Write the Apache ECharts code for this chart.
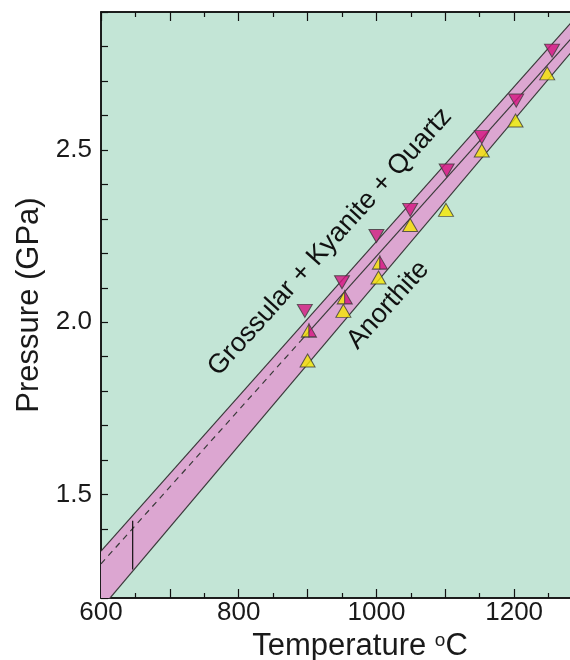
<!DOCTYPE html>
<html>
<head>
<meta charset="utf-8">
<script src="https://cdn.jsdelivr.net/npm/echarts@6/dist/echarts.min.js"></script>
<style>html,body{margin:0;padding:0;background:#fff}#c{width:570px;height:660px}</style>
</head>
<body>
<div id="c"></div>
<script>
// ---- data ----
const downT = [896, 950, 1000, 1049, 1102, 1153, 1203, 1255];
const downP = [2.033, 2.116, 2.25, 2.326, 2.44, 2.537, 2.643, 2.788];
const upT = [900, 952, 1003, 1049, 1101, 1153, 1202, 1248];
const upP = [1.889, 2.033, 2.13, 2.282, 2.326, 2.498, 2.585, 2.722];
const halfT = [902, 954, 1005];
const halfP = [1.976, 2.072, 2.173];
const bandT = [600, 1300];
const bandLower = [1.169, 2.824];
const bandUpper = [1.336, 2.908];
const dashT = [600, 890];
const dashP = [1.299, 1.946];
const solidT = [890, 1300];
const solidP = [1.946, 2.861];
const barT = [646, 646];
const barP = [1.283, 1.424];
const xTicks = [600, 800, 1000, 1200];
const yTicks = [1.5, 2.0, 2.5];

const MAG = '#d4137f', YEL = '#f6e700', EDGE = '#3a3a3a';
const FONT = 'Liberation Sans, Arial, sans-serif';
const zip = (a, b) => a.map((v, i) => [v, b[i]]);

const chart = echarts.init(document.getElementById('c'), null, {renderer: 'canvas'});
const axisCommon = {
  type: 'value', min: 600, max: 1300, interval: 100,
  axisLine: {show: true, lineStyle: {color: '#111', width: 1.5}},
  axisTick: {show: true, inside: true, length: 9, lineStyle: {color: '#111', width: 1.2}},
  minorTick: {show: true, splitNumber: 2, length: 5, lineStyle: {color: '#111', width: 1.2}},
  splitLine: {show: false}, minorSplitLine: {show: false}
};
const option = {
  animation: false,
  grid: {left: 101, top: 12, width: 482, height: 586, containLabel: false, outerBoundsMode: 'none',
         show: true, backgroundColor: '#c3e5d6', borderColor: '#111', borderWidth: 1.5},
  xAxis: [
    Object.assign({}, axisCommon, {
      position: 'bottom',
      axisLabel: {show: true, fontSize: 26, color: '#1a1a1a', fontFamily: FONT, margin: 2,
        formatter: v => xTicks.indexOf(Math.round(v)) >= 0 ? String(Math.round(v)) : ''},
      name: 'Temperature {sup|o}C', nameLocation: 'middle', nameGap: 24,
      nameTextStyle: {fontSize: 31, color: '#1a1a1a', fontFamily: FONT, padding: [0, 0, 0, 36],
        rich: {sup: {fontSize: 19, fontFamily: FONT, color: '#1a1a1a', padding: [0, 0, 13, 0]}}}
    }),
    Object.assign({}, axisCommon, {position: 'top', axisLabel: {show: false}})
  ],
  yAxis: [{
    type: 'value', min: 1.2, max: 2.9, interval: 0.1,
    axisLine: {show: true, lineStyle: {color: '#111', width: 1.5}},
    axisTick: {show: true, inside: true, length: 7, lineStyle: {color: '#111', width: 1.2}},
    splitLine: {show: false},
    axisLabel: {fontSize: 26, color: '#1a1a1a', fontFamily: FONT, margin: 9,
      formatter: v => yTicks.some(t => Math.abs(t - v) < 1e-6) ? v.toFixed(1) : ''},
    name: 'Pressure (GPa)', nameLocation: 'middle', nameGap: 48,
    nameTextStyle: {fontSize: 31, color: '#1a1a1a', fontFamily: FONT}
  }],
  graphic: [
    {type: 'text', x: 330, y: 242, rotation: 48 * Math.PI / 180, z: 100,
     style: {text: 'Grossular + Kyanite + Quartz', font: '27px ' + FONT, fill: '#111',
             align: 'center', verticalAlign: 'middle'}},
    {type: 'text', x: 388, y: 305, rotation: 48 * Math.PI / 180, z: 100,
     style: {text: 'Anorthite', font: '27px ' + FONT, fill: '#111',
             align: 'center', verticalAlign: 'middle'}}
  ],
  series: [
    {type: 'custom', clip: true, z: 1,
     data: bandT.map((t, i) => [t, bandLower[i], bandUpper[i]]),
     renderItem: function (params, api) {
       if (params.dataIndexInside !== 0) return null;
       const pts = [];
       for (let i = 0; i < bandT.length; i++) pts.push(api.coord([bandT[i], bandUpper[i]]));
       for (let i = bandT.length - 1; i >= 0; i--) pts.push(api.coord([bandT[i], bandLower[i]]));
       return {type: 'polygon', shape: {points: pts},
               style: {fill: '#dca6d1', stroke: 'none'}};
     }},
    {type: 'line', data: zip(bandT, bandUpper), symbol: 'none', clip: true, z: 2,
     lineStyle: {color: EDGE, width: 1.2}},
    {type: 'line', data: zip(bandT, bandLower), symbol: 'none', clip: true, z: 2,
     lineStyle: {color: EDGE, width: 1.2}},
    {type: 'line', data: zip(dashT, dashP), symbol: 'none', clip: true, z: 2,
     lineStyle: {color: EDGE, width: 1.2, type: [6, 5]}},
    {type: 'line', data: zip(solidT, solidP), symbol: 'none', clip: true, z: 2,
     lineStyle: {color: EDGE, width: 1.2}},
    {type: 'line', data: zip(barT, barP), symbol: 'none', clip: true, z: 2,
     lineStyle: {color: '#111', width: 1.2}},
    {type: 'scatter', data: zip(downT, downP), symbol: 'triangle', symbolRotate: 180,
     symbolSize: [15, 13], z: 5,
     itemStyle: {color: MAG, borderColor: EDGE, borderWidth: 1}},
    {type: 'scatter', data: zip(upT, upP), symbol: 'triangle',
     symbolSize: [15, 13], z: 5,
     itemStyle: {color: YEL, borderColor: EDGE, borderWidth: 1}},
    {type: 'scatter', data: zip(halfT, halfP), symbol: 'path://M0,10 L5,0 L5,10 Z',
     symbolSize: [7.5, 13], symbolOffset: [-3.75, 0], z: 5,
     itemStyle: {color: YEL, borderColor: EDGE, borderWidth: 1}},
    {type: 'scatter', data: zip(halfT, halfP), symbol: 'path://M0,0 L5,10 L0,10 Z',
     symbolSize: [7.5, 13], symbolOffset: [3.75, 0], z: 5,
     itemStyle: {color: MAG, borderColor: EDGE, borderWidth: 1}}
  ]
};
chart.setOption(option);
</script>
</body>
</html>
